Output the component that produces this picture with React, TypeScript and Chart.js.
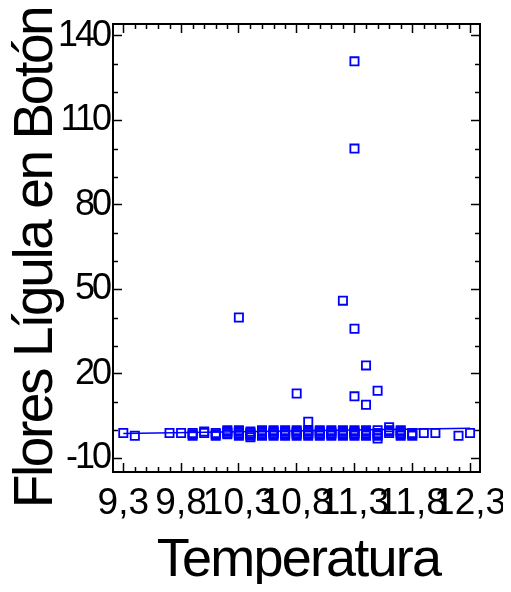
import React, { useEffect, useRef } from 'react';
import { Chart, registerables, LinearScale } from 'chart.js';

// ---- data ----
const temperatura = [
  9.3, 9.4, 9.7, 9.8,
  9.9, 9.9, 9.9,
  10.0, 10.0,
  10.1, 10.1, 10.1,
  10.2, 10.2, 10.2, 10.2,
  10.3, 10.3, 10.3, 10.3, 10.3, 10.3,
  10.4, 10.4, 10.4, 10.4, 10.4,
  10.5, 10.5, 10.5, 10.5, 10.5,
  10.6, 10.6, 10.6, 10.6, 10.6,
  10.7, 10.7, 10.7, 10.7, 10.7,
  10.8, 10.8, 10.8, 10.8, 10.8, 10.8,
  10.9, 10.9, 10.9, 10.9, 10.9, 10.9,
  11.0, 11.0, 11.0, 11.0, 11.0,
  11.1, 11.1, 11.1, 11.1, 11.1,
  11.2, 11.2, 11.2, 11.2, 11.2, 11.2,
  11.3, 11.3, 11.3, 11.3, 11.3, 11.3, 11.3, 11.3, 11.3,
  11.4, 11.4, 11.4, 11.4, 11.4, 11.4, 11.4,
  11.5, 11.5, 11.5, 11.5, 11.5, 11.5,
  11.6, 11.6, 11.6, 11.6,
  11.7, 11.7, 11.7, 11.7, 11.7,
  11.8, 11.8, 11.8,
  11.9, 12.0, 12.2, 12.3,
];

const flores = [
  -1, -2, -1, -1,
  -1, -1.5, -2,
  -0.5, -1,
  -1, -1.5, -2,
  0, -0.5, -1, -1.5,
  0, -0.5, -1, -1.5, -2, 40,
  -0.5, -1, -1.5, -2, -2.5,
  0, -0.5, -1, -1.5, -2,
  0, -0.5, -1, -1.5, -2,
  0, -0.5, -1, -1.5, -2,
  0, -0.5, -1, -1.5, -2, 13,
  0, -0.5, -1, -1.5, -2, 3,
  0, -0.5, -1, -1.5, -2,
  0, -0.5, -1, -1.5, -2,
  0, -0.5, -1, -1.5, -2, 46,
  0, -0.5, -1, -1.5, -2, 12, 36, 100, 131,
  0, -0.5, -1, -1.5, -2, 9, 23,
  0, -1, -1.5, -2, -3, 14,
  1, 0, -0.5, -1,
  0, -0.5, -1, -1.5, -2,
  -1, -1.5, -2,
  -1, -1, -2, -1,
];

// fitted line end points
const fitX = [9.3, 12.3];
const fitY = [-1.2, 0.7];

const xMajorTicks = [9.3, 9.8, 10.3, 10.8, 11.3, 11.8, 12.3];
const xTickLabels = ['9,3', '9,8', '10,3', '10,8', '11,3', '11,8', '12,3'];
const yMajorTicks = [-10, 20, 50, 80, 110, 140];
const yTickLabels = ['-10', '20', '50', '80', '110', '140'];
const xMinorTicks: number[] = [];
for (let i = 93; i <= 123; i++) if ((i - 93) % 5 !== 0) xMinorTicks.push(i / 10);
const yMinorTicks = [0, 10, 30, 40, 60, 70, 90, 100, 120, 130];

const X_MIN = 9.211;
const X_MAX = 12.386;
const Y_MIN = -14.87;
const Y_MAX = 144.26;

const BLUE = '#0000ff';
const FONT = "'Liberation Sans', Arial, sans-serif";

// per-axis text tuning (tight letter spacing of the original)
const axisText: Record<string, { titleSpacing: string; labelSpacing: string; titleShift: [number, number] }> = {
  x: { titleSpacing: '-1.8px', labelSpacing: '0px', titleShift: [2, 0] },
  y: { titleSpacing: '-2.4px', labelSpacing: '-3px', titleShift: [0, 10] },
};

class SpacedLinearScale extends (LinearScale as any) {
  static id = 'spacedLinear';
  static defaults = (LinearScale as any).defaults;
  draw(chartArea: any) {
    const self: any = this;
    if (!self._isVisible()) return;
    const ctx = self.ctx;
    const cfg = axisText[self.id] || { titleSpacing: '0px', labelSpacing: '0px', titleShift: [0, 0] };
    self.drawBackground();
    self.drawGrid(chartArea);
    self.drawBorder();
    ctx.save();
    ctx.letterSpacing = cfg.titleSpacing;
    ctx.translate(cfg.titleShift[0], cfg.titleShift[1]);
    self.drawTitle();
    ctx.restore();
    ctx.save();
    ctx.letterSpacing = cfg.labelSpacing;
    self.drawLabels(chartArea);
    ctx.restore();
  }
}

Chart.register(...registerables, SpacedLinearScale as any);

const minorTickPlugin = {
  id: 'minorTicks',
  afterDraw(chart: any) {
    const { ctx, chartArea, scales } = chart;
    const { left, right, top, bottom } = chartArea;
    ctx.save();
    ctx.strokeStyle = '#000';
    ctx.lineWidth = 1.5;
    ctx.beginPath();
    for (const v of xMinorTicks) {
      const px = Math.round(scales.x.getPixelForValue(v)) + 0.5;
      ctx.moveTo(px, bottom);
      ctx.lineTo(px, bottom - 5);
      ctx.moveTo(px, top);
      ctx.lineTo(px, top + 5);
    }
    for (const v of yMinorTicks) {
      const py = Math.round(scales.y.getPixelForValue(v)) + 0.5;
      ctx.moveTo(left, py);
      ctx.lineTo(left + 5, py);
      ctx.moveTo(right, py);
      ctx.lineTo(right - 5, py);
    }
    ctx.stroke();
    ctx.restore();
  },
};

const gridOpts = {
  drawOnChartArea: false,
  drawTicks: true,
  tickLength: -9,
  tickWidth: 1.5,
  tickColor: '#000',
  color: '#000',
};
const borderOpts = { display: true, color: '#000', width: 2 };

export default function App() {
  const ref = useRef<HTMLCanvasElement | null>(null);

  useEffect(() => {
    if (!ref.current) return;
    const points = temperatura.map((t, i) => ({ x: t, y: flores[i] }));
    const fit = fitX.map((x, i) => ({ x, y: fitY[i] }));

    const chart = new Chart(ref.current, {
      type: 'scatter',
      data: {
        datasets: [
          {
            label: 'Flores Lígula en Botón',
            data: points,
            pointStyle: 'rect',
            pointRadius: 5.8,
            pointBorderWidth: 1.8,
            pointBorderColor: BLUE,
            pointBackgroundColor: 'rgba(0,0,0,0)',
            borderColor: BLUE,
            backgroundColor: 'rgba(0,0,0,0)',
          },
          {
            label: 'ajuste',
            data: fit,
            showLine: true,
            pointRadius: 0,
            borderColor: BLUE,
            borderWidth: 1.5,
            backgroundColor: BLUE,
          },
        ],
      },
      options: {
        animation: false,
        responsive: true,
        maintainAspectRatio: false,
        layout: { padding: 0 },
        plugins: {
          legend: { display: false },
          tooltip: { enabled: false },
        },
        scales: {
          x: {
            type: 'spacedLinear',
            position: 'bottom',
            min: X_MIN,
            max: X_MAX,
            afterBuildTicks: (axis: any) => {
              axis.ticks = xMajorTicks.map((v) => ({ value: v }));
            },
            afterFit: (scale: any) => {
              scale.height = 112;
              scale.paddingLeft = 0;
              scale.paddingRight = 0;
            },
            grid: gridOpts,
            border: borderOpts,
            ticks: {
              autoSkip: false,
              maxRotation: 0,
              minRotation: 0,
              padding: 18.5,
              color: '#000',
              font: { family: FONT, size: 37 },
              callback: (_v: any, i: number) => xTickLabels[i] ?? '',
            },
            title: {
              display: true,
              text: 'Temperatura',
              color: '#000',
              padding: 0,
              font: { family: FONT, size: 54, lineHeight: '46px' },
            },
          },
          x2: {
            type: 'linear',
            position: 'top',
            min: X_MIN,
            max: X_MAX,
            afterBuildTicks: (axis: any) => {
              axis.ticks = xMajorTicks.map((v) => ({ value: v }));
            },
            afterFit: (scale: any) => {
              scale.height = 16;
              scale.paddingLeft = 0;
              scale.paddingRight = 0;
            },
            grid: gridOpts,
            border: borderOpts,
            ticks: { display: false },
          },
          y: {
            type: 'spacedLinear',
            position: 'left',
            min: Y_MIN,
            max: Y_MAX,
            afterBuildTicks: (axis: any) => {
              axis.ticks = yMajorTicks.map((v) => ({ value: v }));
            },
            afterFit: (scale: any) => {
              scale.width = 105;
              scale.paddingTop = 0;
              scale.paddingBottom = 0;
            },
            grid: gridOpts,
            border: borderOpts,
            ticks: {
              padding: 13,
              color: '#000',
              font: { family: FONT, size: 36 },
              callback: (_v: any, i: number) => yTickLabels[i] ?? '',
            },
            title: {
              display: true,
              text: 'Flores Lígula en Botón',
              color: '#000',
              padding: 0,
              font: { family: FONT, size: 55, lineHeight: '57px' },
            },
          },
          y2: {
            type: 'linear',
            position: 'right',
            min: Y_MIN,
            max: Y_MAX,
            afterBuildTicks: (axis: any) => {
              axis.ticks = yMajorTicks.map((v) => ({ value: v }));
            },
            afterFit: (scale: any) => {
              scale.width = 31;
              scale.paddingTop = 0;
              scale.paddingBottom = 0;
            },
            grid: gridOpts,
            border: borderOpts,
            ticks: { display: false },
          },
        },
      } as any,
      plugins: [minorTickPlugin],
    });
    return () => chart.destroy();
  }, []);

  return (
    <div style={{ width: 503, height: 576, position: 'relative' }}>
      <canvas ref={ref} />
    </div>
  );
}
